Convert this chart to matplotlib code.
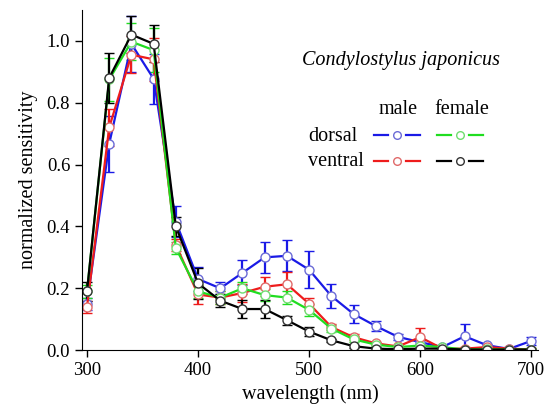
import matplotlib
matplotlib.use('Agg')
import matplotlib.pyplot as plt
from matplotlib.lines import Line2D
import numpy as np

plt.rcParams['font.family'] = ['Liberation Serif', 'DejaVu Serif']

wavelength = np.arange(300, 701, 20)

male_dorsal = [0.15, 0.667, 0.99, 0.877, 0.415, 0.23, 0.20, 0.25, 0.30, 0.305, 0.26, 0.175,
               0.117, 0.078, 0.043, 0.026, 0.01, 0.045, 0.016, 0.004, 0.03]
male_dorsal_err = [0.02, 0.09, 0.09, 0.08, 0.05, 0.04, 0.02, 0.04, 0.05, 0.05, 0.06, 0.04,
                   0.03, 0.015, 0.01, 0.01, 0.005, 0.04, 0.005, 0.005, 0.012]

male_ventral = [0.14, 0.72, 0.955, 0.94, 0.34, 0.18, 0.17, 0.185, 0.205, 0.213, 0.15, 0.075,
                0.042, 0.022, 0.012, 0.042, 0.005, 0.005, 0.01, 0.005, 0.002]
male_ventral_err = [0.02, 0.06, 0.06, 0.07, 0.02, 0.03, 0.02, 0.03, 0.03, 0.04, 0.02, 0.01,
                    0.01, 0.005, 0.005, 0.03, 0.005, 0.005, 0.005, 0.005, 0.005]

female_dorsal = [0.19, 0.875, 0.997, 0.97, 0.33, 0.19, 0.17, 0.20, 0.178, 0.17, 0.13, 0.07,
                 0.035, 0.018, 0.01, 0.015, 0.01, 0.002, 0.003, 0.002, 0.002]
female_dorsal_err = [0.02, 0.07, 0.06, 0.07, 0.02, 0.02, 0.02, 0.02, 0.02, 0.02, 0.02, 0.01,
                     0.01, 0.005, 0.005, 0.005, 0.005, 0.005, 0.005, 0.005, 0.005]

female_ventral = [0.19, 0.88, 1.02, 0.99, 0.40, 0.216, 0.16, 0.133, 0.133, 0.097, 0.06, 0.032,
                  0.013, 0.005, 0.003, 0.005, 0.005, 0.002, 0.002, 0.002, 0.002]
female_ventral_err = [0.03, 0.08, 0.06, 0.06, 0.03, 0.05, 0.02, 0.03, 0.03, 0.015, 0.015, 0.005,
                      0.005, 0.005, 0.003, 0.003, 0.003, 0.003, 0.003, 0.003, 0.003]

series = [
    ('male', 'dorsal', male_dorsal, male_dorsal_err, '#1a1ae6', '#6b6bd6'),
    ('male', 'ventral', male_ventral, male_ventral_err, '#ee1c1c', '#e06a6a'),
    ('female', 'dorsal', female_dorsal, female_dorsal_err, '#20dd20', '#70dd70'),
    ('female', 'ventral', female_ventral, female_ventral_err, '#000000', '#333333'),
]

fig = plt.figure(figsize=(5.54, 4.11), dpi=100)
ax = fig.add_axes([0.148, 0.148, 0.823, 0.828])

for sex, side, vals, err, col, mcol in series:
    ax.errorbar(wavelength, vals, yerr=err, color=col, lw=1.6, capsize=3.5,
                elinewidth=1.6, capthick=1.4, marker='o', ms=6.5,
                mfc='white', mec=mcol, mew=1.0)

ax.set_xlim(295.5, 706)
ax.set_ylim(0, 1.1)
ax.set_xticks([300, 400, 500, 600, 700])
ax.set_yticks([0.0, 0.2, 0.4, 0.6, 0.8, 1.0])
ax.set_yticklabels(['0.0', '0.2', '0.4', '0.6', '0.8', '1.0'])
ax.spines['top'].set_visible(False)
ax.spines['right'].set_visible(False)
ax.tick_params(direction='out', length=5, width=1, labelsize=13.5)
ax.set_xlabel('wavelength (nm)', fontsize=14.5, labelpad=4)
ax.set_ylabel('normalized sensitivity', fontsize=14.5, labelpad=6)

# species name and hand-made legend (pixel positions -> figure fraction)
W, H = 554, 411
fig.text(401 / W, 1 - 61 / H, 'Condylostylus japonicus', style='italic',
         fontsize=14.5, ha='center', va='center')
fig.text(398 / W, 1 - 110 / H, 'male', fontsize=14.5, ha='center', va='center')
fig.text(462 / W, 1 - 110 / H, 'female', fontsize=14.5, ha='center', va='center')
fig.text(308 / W, 1 - 136 / H, 'dorsal', fontsize=14.5, ha='left', va='center')
fig.text(308 / W, 1 - 162 / H, 'ventral', fontsize=14.5, ha='left', va='center')

col_x = {'male': 397, 'female': 460}
row_y = {'dorsal': 135, 'ventral': 161}
for sex, side, vals, err, col, mcol in series:
    cx, cy = col_x[sex], row_y[side]
    for x0, x1 in [(cx - 23, cx - 9), (cx + 9, cx + 23)]:
        fig.add_artist(Line2D([x0 / W, x1 / W], [1 - cy / H, 1 - cy / H],
                              color=col, lw=1.6, transform=fig.transFigure))
    fig.add_artist(Line2D([cx / W], [1 - cy / H], marker='o', ms=5.5, mfc='white',
                          mec=mcol, mew=1.0, transform=fig.transFigure))

fig.savefig('out.png', dpi=100)
